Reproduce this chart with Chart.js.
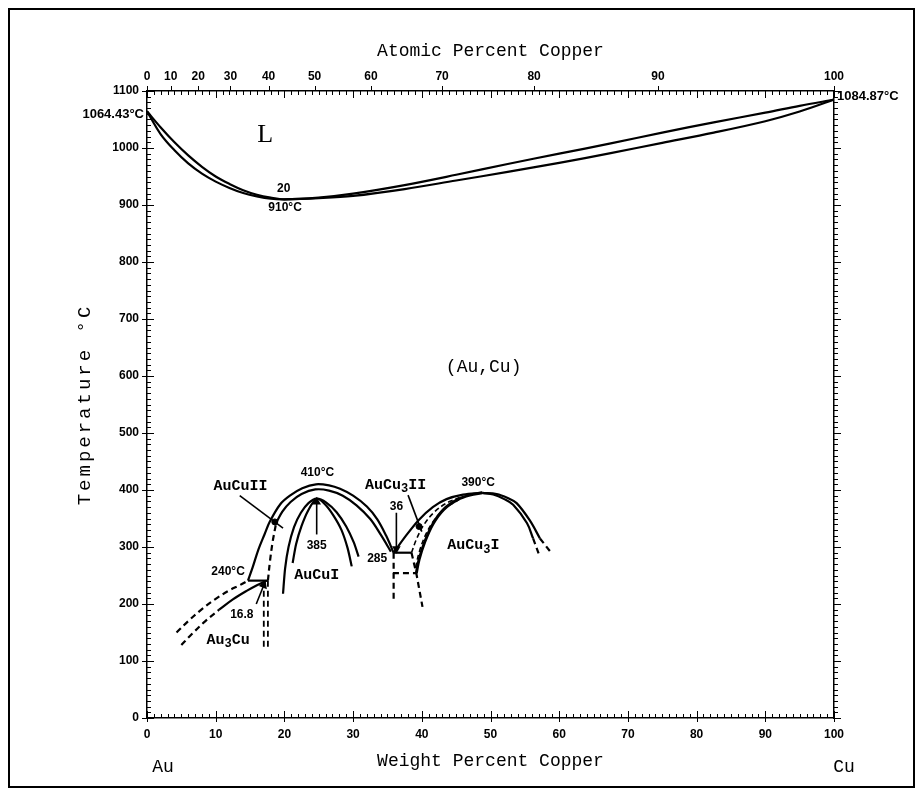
<!DOCTYPE html>
<html>
<head>
<meta charset="utf-8">
<script src="https://cdn.jsdelivr.net/npm/chart.js@4.4.1/dist/chart.umd.min.js"></script>
<style>
  html, body { margin: 0; padding: 0; background: #fff; }
  canvas { display: block; }
</style>
</head>
<body>
<canvas id="chart" width="923" height="796" style="width:923px;height:796px"></canvas>
<script>
// --- data: [weight % Cu, temperature °C] ---
const liquidus = [[0,1064.43],[2,1036],[4,1010],[6,987],[8,967],[10,950],[12,937],[14,926],[16,918],[18,913],[20,910],
  [25,913],[30,920],[37.5,935],[45,953],[52.5,972],[60,990],[67.5,1008],[75,1027],[82.5,1045],[90,1062],[95,1074],[100,1084.87]];
const solidus = [[0,1064.43],[2,1024],[4,996],[6,973],[8,955],[10,941],[12,930],[14,921],[16,915],[18,911],[20,910],
  [25,912],[30,916],[37.5,928],[45,943],[52.5,958],[60,974],[67.5,991],[75,1009],[82.5,1027],[90,1047],[95,1064],[100,1084.87]];

const au3cuOuter = [[4.3,150],[6,170],[8,191],[10,209],[12,224],[13.5,233],[14.7,241]];
const au3cuInnerDash = [[5,128],[6.5,147],[8.5,170],[10.5,190]];
const au3cuInner = [[10.5,190],[12.5,208],[14.5,223],[16,233],[17.4,241]];
const line240 = [[14.7,241],[17.6,241]];
const au3cuVertA = [[17.0,241],[17.0,118]];
const au3cuVertB = [[17.6,241],[17.6,118]];

const aucuIIOuter = [[14.7,241],[15.4,265],[16.2,295],[17.1,322],[17.9,345],[19.4,375],[20.8,390],[22.6,403],[24.6,410],
  [26.5,408],[28.1,402],[30,390],[32,371],[33.5,349],[34.8,320],[35.9,290]];
const aucuIIInnerDash = [[17.6,241],[17.9,275],[18.3,310],[18.8,342]];
const aucuIIInner = [[18.8,342],[19.7,362],[20.9,379],[22.5,393],[24.5,401],[26.5,399],[28.5,390],[30.5,373],[32.5,349],[34,322],[35.5,292]];
const aucuIOuter = [[19.8,218],[20.1,262],[20.6,300],[21.4,335],[22.4,360],[23.5,377],[24.7,385],
  [26.1,378],[27.6,361],[29,336],[30.1,308],[30.8,283]];
const aucuIInner = [[21.2,272],[21.7,305],[22.5,337],[23.5,365],[24.7,385],[25.9,375],[27.1,356],[28.3,330],[29.2,298],[29.8,266]];

const box285Top = [[35.9,290],[38.5,290]];
const box285Bottom = [[35.8,254],[39.2,254]];
const box285Left = [[35.9,290],[35.9,205]];
const box285Right = [[38.5,290],[39.2,254],[40.1,195]];

const cu3Ridge = [[35.9,290],[37.7,320],[39.6,348],[41.6,370],[43.6,384],[46,392],[48.8,395]];
const cu3Boundary = [[39.2,254],[39.6,278],[40.4,308],[41.6,340],[43.2,366],[45.2,383],[47,391],[48.8,395]];
const cu3DashA = [[38.5,290],[39.2,313],[40.3,339],[41.8,361],[43.6,377],[45.5,387]];
const cu3DashB = [[39.1,264],[39.6,290],[40.5,320],[41.8,347],[43.5,369],[45.4,383]];
const cu3RightOuter = [[48.8,395],[50.9,393],[52.5,386],[53.8,377],[55.7,347],[57.2,315]];
const cu3RightOuterDash = [[57.2,315],[58.7,292]];
const cu3RightInner = [[48.8,395],[50.4,392],[52,384],[53.3,374],[55.3,342],[56.2,315]];
const cu3RightInnerDash = [[56.2,315],[57.0,289]];

const arrow385 = [[24.7,322],[24.7,379]];
const arrow36 = [[36.3,360],[36.3,297]];
const arrow168 = [[15.9,200],[17.0,233]];
const leaderAuCuII = [[13.5,390],[19.8,333]];
const leaderAuCu3II = [[38.0,391],[40.0,327]];
const leaderDots = [[18.6,344],[39.6,336]];

// tick labels
const wtTicks = [0,10,20,30,40,50,60,70,80,90,100];
const atTicks = [0,10,20,30,40,50,60,70,80,90,100];
const tempTicks = [0,100,200,300,400,500,600,700,800,900,1000,1100];

// in-plot notes: text, weight %, temperature
const noteText = ['20','910°C','410°C','385','285','36','390°C','240°C','16.8'];
const noteWt   = [19.9, 20.1, 24.8, 24.7, 33.5, 36.3, 48.2, 11.8, 13.8];
const noteT    = [929, 895, 430, 303, 280, 371, 412, 257, 181];
const phaseText = ['AuCuII','AuCuI','AuCu_3II','AuCu_3I','Au_3Cu','(Au,Cu)'];
const phaseWt   = [13.6, 24.7, 36.2, 47.5, 11.8, 49];
const phaseT    = [406, 251, 409, 303, 137, 616];

const CU = 63.546, AU = 196.967;
const atToWt = (a) => 100 * a * CU / (a * CU + (100 - a) * AU);

const NUM = '"Liberation Sans Narrow", "Liberation Sans", Arial, sans-serif';
const MONO = '"Liberation Mono", "DejaVu Sans Mono", monospace';
const SERIF = '"Liberation Serif", "DejaVu Serif", serif';
const DASH = [6, 4];

function line(arr, opts = {}) {
  return Object.assign({
    data: arr.map(([x, y]) => ({ x, y })),
    showLine: true, borderColor: '#000', backgroundColor: '#000',
    borderWidth: 2.2, pointRadius: 0, tension: 0.35, fill: false
  }, opts);
}
function arrow(arr, rot) {
  return line(arr, {
    tension: 0, borderWidth: 1.6, pointStyle: 'triangle', pointRotation: rot,
    pointRadius: (c) => c.dataIndex === arr.length - 1 ? 5 : 0, pointBorderWidth: 0
  });
}

const datasets = [
  line(liquidus), line(solidus),
  line(au3cuOuter, { borderDash: DASH }),
  line(au3cuInnerDash, { borderDash: DASH }),
  line(au3cuInner),
  line(line240, { tension: 0 }),
  line(au3cuVertA, { tension: 0, borderDash: DASH, borderWidth: 1.8 }),
  line(au3cuVertB, { tension: 0, borderDash: DASH, borderWidth: 1.8 }),
  line(aucuIIOuter),
  line(aucuIIInnerDash, { borderDash: DASH }),
  line(aucuIIInner),
  line(aucuIOuter, { tension: 0.25 }),
  line(aucuIInner, { tension: 0.25 }),
  line(box285Top, { tension: 0 }),
  line(box285Bottom, { tension: 0, borderDash: DASH }),
  line(box285Left, { tension: 0, borderDash: DASH }),
  line(box285Right, { tension: 0, borderDash: DASH }),
  line(cu3Ridge),
  line(cu3Boundary, { borderWidth: 3 }),
  line(cu3DashA, { borderDash: [5, 3], borderWidth: 1.6 }),
  line(cu3DashB, { borderDash: [5, 3], borderWidth: 1.6 }),
  line(cu3RightOuter),
  line(cu3RightOuterDash, { tension: 0, borderDash: DASH }),
  line(cu3RightInner),
  line(cu3RightInnerDash, { tension: 0, borderDash: DASH }),
  arrow(arrow385, 0),
  arrow(arrow36, 180),
  arrow(arrow168, 22),
  line(leaderAuCuII, { tension: 0, borderWidth: 1.6 }),
  line(leaderAuCu3II, { tension: 0, borderWidth: 1.6 }),
  { data: leaderDots.map(([x, y]) => ({ x, y })), showLine: false, pointRadius: 3, backgroundColor: '#000', borderColor: '#000' }
];

function richText(ctx, text, x, y, size, family, weight) {
  const parts = text.split(/(_\d)/).filter(Boolean);
  const big = `${weight} ${size}px ${family}`;
  const small = `${weight} ${Math.round(size * 0.8)}px ${family}`;
  let w = 0;
  parts.forEach(p => { ctx.font = p[0] === '_' ? small : big; w += ctx.measureText(p[0] === '_' ? p.slice(1) : p).width; });
  let cx = x - w / 2;
  ctx.textAlign = 'left';
  ctx.textBaseline = 'middle';
  parts.forEach(p => {
    const sub = p[0] === '_';
    const t = sub ? p.slice(1) : p;
    ctx.font = sub ? small : big;
    ctx.fillText(t, cx, sub ? y + size * 0.3 : y);
    cx += ctx.measureText(t).width;
  });
}

const decor = {
  id: 'decor',
  afterDraw(chart) {
    const { ctx, chartArea: a, scales } = chart;
    const sx = scales.x, sy = scales.y;
    ctx.save();
    ctx.strokeStyle = '#000';
    ctx.lineWidth = 1;
    ctx.beginPath();
    for (let v = 0; v <= 100; v++) {
      const x = Math.round(sx.getPixelForValue(v)) + 0.5;
      const len = v % 10 === 0 ? 7 : 4;
      ctx.moveTo(x, a.bottom); ctx.lineTo(x, a.bottom - len);
      ctx.moveTo(x, a.top); ctx.lineTo(x, a.top + len);
      if (v % 10 === 0) { ctx.moveTo(x, a.bottom); ctx.lineTo(x, a.bottom + 4); }
    }
    atTicks.forEach(at => {
      const x = Math.round(sx.getPixelForValue(atToWt(at))) + 0.5;
      ctx.moveTo(x, a.top); ctx.lineTo(x, a.top - 5);
    });
    for (let t = 0; t <= 1100; t += 10) {
      const y = Math.round(sy.getPixelForValue(t)) + 0.5;
      const len = t % 100 === 0 ? 7 : 4;
      ctx.moveTo(a.left, y); ctx.lineTo(a.left + len, y);
      ctx.moveTo(a.right, y); ctx.lineTo(a.right + len, y);
      if (t % 100 === 0) { ctx.moveTo(a.left, y); ctx.lineTo(a.left - 5, y); }
    }
    ctx.stroke();

    // outer frame
    ctx.lineWidth = 2;
    ctx.strokeRect(9, 9, 905, 778);

    ctx.fillStyle = '#000';
    // notes inside the plot
    noteText.forEach((t, i) => {
      ctx.font = `bold 12px ${NUM}`;
      ctx.textAlign = 'center';
      ctx.textBaseline = 'middle';
      ctx.fillText(t, sx.getPixelForValue(noteWt[i]), sy.getPixelForValue(noteT[i]));
    });
    phaseText.forEach((t, i) => {
      const big = t === '(Au,Cu)';
      richText(ctx, t, sx.getPixelForValue(phaseWt[i]), sy.getPixelForValue(phaseT[i]), big ? 18 : 15, MONO, big ? 'normal' : 'bold');
    });
    ctx.font = `26px ${SERIF}`;
    ctx.textAlign = 'center';
    ctx.textBaseline = 'middle';
    ctx.fillText('L', sx.getPixelForValue(17.2), sy.getPixelForValue(1023));

    // melting points at the edges
    ctx.font = `bold 13px ${NUM}`;
    ctx.textAlign = 'right';
    ctx.fillText('1064.43°C', a.left - 3, sy.getPixelForValue(1064.43) + 3);
    ctx.textAlign = 'left';
    ctx.fillText('1084.87°C', a.right + 3, sy.getPixelForValue(1084.87) - 3);

    // axis titles
    ctx.font = `18px ${MONO}`;
    ctx.textAlign = 'center';
    ctx.fillText('Atomic Percent Copper', (a.left + a.right) / 2, 51);
    ctx.fillText('Weight Percent Copper', (a.left + a.right) / 2, 761);
    ctx.fillText('Au', 163, 767);
    ctx.fillText('Cu', 844, 767);
    ctx.save();
    ctx.translate(85, (a.top + a.bottom) / 2);
    ctx.rotate(-Math.PI / 2);
    ctx.font = `19px ${MONO}`;
    ctx.letterSpacing = '3px';
    ctx.fillText('Temperature °C', 0, 0);
    ctx.restore();
    ctx.restore();
  }
};

const tickFont = { family: NUM, size: 12, weight: 'bold' };
const axisBorder = { display: true, color: '#000', width: 1.5 };

new Chart(document.getElementById('chart'), {
  type: 'scatter',
  data: { datasets },
  options: {
    responsive: false,
    animation: false,
    layout: { padding: 0 },
    plugins: { legend: { display: false }, tooltip: { enabled: false } },
    scales: {
      x: {
        type: 'linear', position: 'bottom', min: 0, max: 100,
        afterFit: (s) => { s.height = 78; },
        afterBuildTicks: (s) => { s.ticks = wtTicks.map(v => ({ value: v })); },
        grid: { display: false, drawTicks: false },
        border: axisBorder,
        ticks: { color: '#000', font: tickFont, padding: 9, maxRotation: 0, autoSkip: false,
          callback: (v) => String(v) }
      },
      xTop: {
        type: 'linear', position: 'top', min: 0, max: 100,
        afterFit: (s) => { s.height = 91; },
        afterBuildTicks: (s) => { s.ticks = atTicks.map(v => ({ value: atToWt(v) })); },
        grid: { display: false, drawTicks: false },
        border: axisBorder,
        ticks: { color: '#000', font: tickFont, padding: 7, maxRotation: 0, autoSkip: false,
          callback: (v, i) => String(atTicks[i]) }
      },
      y: {
        type: 'linear', position: 'left', min: 0, max: 1100,
        afterFit: (s) => { s.width = 147; },
        afterBuildTicks: (s) => { s.ticks = tempTicks.map(v => ({ value: v })); },
        grid: { display: false, drawTicks: false },
        border: axisBorder,
        ticks: { color: '#000', font: tickFont, padding: 8, autoSkip: false,
          callback: (v) => String(v) }
      },
      yRight: {
        type: 'linear', position: 'right', min: 0, max: 1100,
        afterFit: (s) => { s.width = 89; },
        grid: { display: false, drawTicks: false },
        border: axisBorder,
        ticks: { display: false }
      }
    }
  },
  plugins: [decor]
});
</script>
</body>
</html>
